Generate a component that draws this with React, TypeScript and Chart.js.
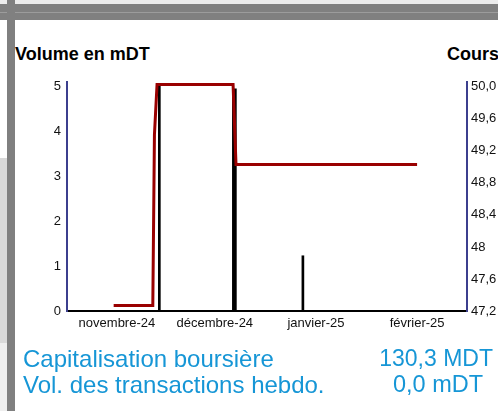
import React, { useEffect, useRef } from "react";
import { Chart, registerables } from "chart.js";

Chart.register(...registerables);

// x values are days counted from 2024-11-01
const monthTickDays = [0, 30, 61, 92];
const monthLabels = ["novembre-24", "décembre-24", "janvier-25", "février-25"];

const volumeTicks = [0, 1, 2, 3, 4, 5];
const priceTicks = [47.2, 47.6, 48, 48.4, 48.8, 49.2, 49.6, 50.0];
const priceTickLabels = ["47,2", "47,6", "48", "48,4", "48,8", "49,2", "49,6", "50,0"];

const thinVolumeDays = [13, 57];
const thinVolumeValues = [5.05, 1.23];
const thickVolumeDays = [36];
const thickVolumeValues = [4.95];

const priceDays = [-1, 4, 11, 11.5, 12.3, 20, 28, 35.6, 36.5, 50, 64, 78, 92];
const priceValues = [47.27, 47.27, 47.27, 49.4, 50.03, 50.03, 50.03, 50.03, 49.03, 49.03, 49.03, 49.03, 49.03];

const FONT = "'Liberation Sans', Arial, Helvetica, sans-serif";
const NAVY = "#3c3f8e";
const RED = "#990000";
const BLUE = "#1696d6";

export default function App() {
  const canvasRef = useRef<HTMLCanvasElement | null>(null);

  useEffect(() => {
    document.body.style.margin = "0";
    const canvas = canvasRef.current;
    if (!canvas) return;
    const tickFont = { family: FONT, size: 13 };
    const chart = new Chart(canvas, {
      type: "bar",
      data: {
        datasets: [
          {
            type: "line",
            data: priceDays.map((d, i) => ({ x: d, y: priceValues[i] })),
            yAxisID: "y1",
            xAxisID: "x",
            borderColor: RED,
            backgroundColor: RED,
            borderWidth: 3,
            pointRadius: 0,
            tension: 0,
            order: 0,
            clip: false,
          } as any,
          {
            type: "bar",
            data: thinVolumeDays.map((d, i) => ({ x: d, y: thinVolumeValues[i] })),
            yAxisID: "y",
            xAxisID: "x",
            backgroundColor: "#000",
            barThickness: 2,
            grouped: false,
            order: 1,
          } as any,
          {
            type: "bar",
            data: thickVolumeDays.map((d, i) => ({ x: d, y: thickVolumeValues[i] })),
            yAxisID: "y",
            xAxisID: "x",
            backgroundColor: "#000",
            barThickness: 4,
            grouped: false,
            order: 1,
          } as any,
        ],
      },
      options: {
        responsive: false,
        animation: false,
        layout: { padding: { top: 82, bottom: 70, left: 0, right: 0 } },
        plugins: { legend: { display: false }, tooltip: { enabled: false } },
        scales: {
          x: {
            type: "linear",
            min: -15.3,
            max: 107.3,
            offset: false,
            grid: { display: false, drawTicks: false },
            border: { display: true, color: "#000", width: 2 },
            ticks: {
              font: tickFont,
              color: "#111",
              padding: 5,
              autoSkip: false,
              maxRotation: 0,
              callback: (_v: any, i: number) => monthLabels[i],
            },
            afterBuildTicks: (s: any) => {
              s.ticks = monthTickDays.map((v) => ({ value: v }));
            },
            afterFit: (s: any) => {
              s.height = 30;
            },
          },
          y: {
            type: "linear",
            position: "left",
            min: 0,
            max: 5.1,
            grid: { display: false, drawTicks: false },
            border: { display: true, color: NAVY, width: 2 },
            ticks: {
              font: tickFont,
              color: "#111",
              padding: 6,
              callback: (v: any) => String(v),
            },
            afterBuildTicks: (s: any) => {
              s.ticks = volumeTicks.map((v) => ({ value: v }));
            },
            afterFit: (s: any) => {
              s.width = 67;
            },
          },
          y1: {
            type: "linear",
            position: "right",
            min: 47.2,
            max: 50.06,
            grid: { display: false, drawTicks: false },
            border: { display: true, color: NAVY, width: 2 },
            ticks: {
              font: tickFont,
              color: "#111",
              padding: 4,
              callback: (_v: any, i: number) => priceTickLabels[i],
            },
            afterBuildTicks: (s: any) => {
              s.ticks = priceTicks.map((v) => ({ value: v }));
            },
            afterFit: (s: any) => {
              s.width = 31;
            },
          },
        },
      } as any,
    });
    return () => chart.destroy();
  }, []);

  const abs = (style: React.CSSProperties): React.CSSProperties => ({ position: "absolute", ...style });

  return (
    <div
      style={{
        position: "fixed",
        left: 0,
        top: 0,
        width: 498,
        height: 411,
        overflow: "hidden",
        background: "#fff",
        fontFamily: FONT,
      }}
    >
      <div style={abs({ left: 0, top: 0, width: 498, height: 4, background: "#ececec" })} />
      <div style={abs({ left: 0, top: 4, width: 498, height: 16, background: "#808080" })} />
      <div style={abs({ left: 0, top: 12, width: 498, height: 1, background: "#9c9c9c" })} />
      <div style={abs({ left: 0, top: 158, width: 7, height: 185, background: "#d9d9d9" })} />
      <div style={abs({ left: 0, top: 343, width: 7, height: 68, background: "#eeeeee" })} />
      <div style={abs({ left: 7, top: 0, width: 8, height: 411, background: "#808080" })} />

      <div
        style={abs({
          left: 15,
          top: 44.8,
          fontSize: 18,
          lineHeight: "18px",
          fontWeight: "bold",
          color: "#000",
          whiteSpace: "nowrap",
        })}
      >
        Volume en mDT
      </div>
      <div
        style={abs({
          left: 447,
          top: 44.8,
          fontSize: 18,
          lineHeight: "18px",
          fontWeight: "bold",
          color: "#000",
          whiteSpace: "nowrap",
        })}
      >
        Cours
      </div>

      <canvas ref={canvasRef} width={498} height={411} style={abs({ left: 0, top: 0, width: 498, height: 411 })} />

      <div style={abs({ left: 23, top: 346.7, fontSize: 24, lineHeight: "24px", color: BLUE, whiteSpace: "nowrap" })}>
        Capitalisation boursière
      </div>
      <div style={abs({ left: 23, top: 372.7, fontSize: 24, lineHeight: "24px", color: BLUE, whiteSpace: "nowrap" })}>
        Vol. des transactions hebdo.
      </div>
      <div
        style={abs({
          right: 5,
          top: 347.2,
          fontSize: 23,
          lineHeight: "23px",
          color: BLUE,
          whiteSpace: "nowrap",
          textAlign: "right",
        })}
      >
        130,3 MDT
      </div>
      <div style={abs({ left: 393, top: 373.1, fontSize: 23.5, lineHeight: "23.5px", color: BLUE, whiteSpace: "nowrap" })}>
        0,0 mDT
      </div>
    </div>
  );
}
